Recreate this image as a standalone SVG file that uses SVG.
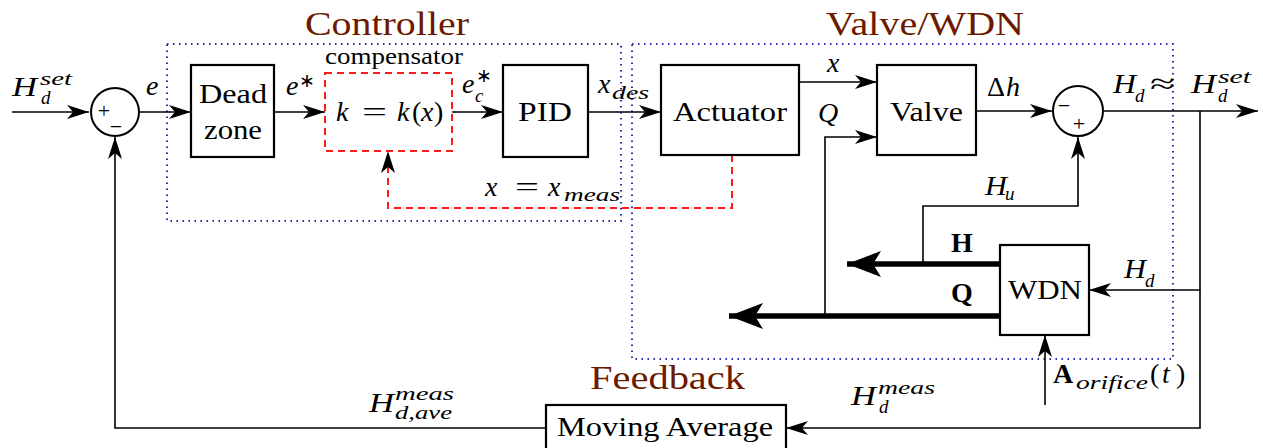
<svg xmlns="http://www.w3.org/2000/svg" width="1263" height="448" viewBox="0 0 1263 448">
  <style>
    .box { fill: #fff; stroke: #000; stroke-width: 2.2; }
    .ln { fill: none; stroke: #000; stroke-width: 1.6; }
    .thick { fill: none; stroke: #000; stroke-width: 5.5; }
    .grp { fill: none; stroke: #2a2ab0; stroke-width: 2; stroke-dasharray: 1.5 4.5; }
    .red { fill: none; stroke: #ff1a1a; stroke-width: 2; stroke-dasharray: 7 5; }
    text { font-family: 'Liberation Serif', 'Times New Roman', serif; fill: #000; }
    .t { font-size: 28px; }
    .m { font-style: italic; font-size: 28px; }
    .r { font-style: normal; font-size: 28px; }
    .s { font-style: italic; font-size: 19px; }
    .b { font-weight: bold; font-style: normal; font-size: 28px; }
    .title { fill: #6b1a00; font-size: 33px; }
    .sign { font-size: 22px; }
  </style>
  <defs>
    <marker id="arr" viewBox="0 0 22 14" markerWidth="22" markerHeight="14" refX="22" refY="7" orient="auto" markerUnits="userSpaceOnUse">
      <path d="M0,0 L22,7 L0,14 L6,7 z" fill="#000"/>
    </marker>
    <marker id="arrBig" viewBox="0 0 34 26" markerWidth="34" markerHeight="26" refX="34" refY="13" orient="auto" markerUnits="userSpaceOnUse">
      <path d="M0,0 L34,13 L0,26 L8,13 z" fill="#000"/>
    </marker>
  </defs>

  <rect width="1263" height="448" fill="#fff"/>

  <!-- grouping frames -->
  <g id="groups">
    <rect class="grp" x="167" y="44" width="454" height="177"/>
    <rect class="grp" x="632" y="44" width="541" height="315"/>
    <text class="title" x="305" y="35" textLength="164" lengthAdjust="spacingAndGlyphs">Controller</text>
    <text class="title" x="826" y="35" textLength="198" lengthAdjust="spacingAndGlyphs">Valve/WDN</text>
    <text class="title" x="590" y="389" textLength="155" lengthAdjust="spacingAndGlyphs">Feedback</text>
  </g>

  <!-- connectors -->
  <g id="connectors">
    <line class="ln" x1="12" y1="112" x2="89" y2="112" marker-end="url(#arr)"/>
    <line class="ln" x1="139" y1="112" x2="191" y2="112" marker-end="url(#arr)"/>
    <line class="ln" x1="274" y1="112" x2="325" y2="112" marker-end="url(#arr)"/>
    <line class="ln" x1="452" y1="112" x2="503" y2="112" marker-end="url(#arr)"/>
    <line class="ln" x1="588" y1="112" x2="661" y2="112" marker-end="url(#arr)"/>
    <line class="ln" x1="799" y1="82" x2="877" y2="82" marker-end="url(#arr)"/>
    <polyline class="ln" points="825,316 825,137 877,137" marker-end="url(#arr)"/>
    <line class="ln" x1="976" y1="111" x2="1052" y2="111" marker-end="url(#arr)"/>
    <line class="ln" x1="1104" y1="111" x2="1258" y2="111" marker-end="url(#arr)"/>
    <polyline class="ln" points="923,264 923,206 1078,206 1078,137" marker-end="url(#arr)"/>
    <line class="thick" x1="1000" y1="264" x2="847" y2="264" marker-end="url(#arrBig)"/>
    <line class="thick" x1="1000" y1="316" x2="729" y2="316" marker-end="url(#arrBig)"/>
    <polyline class="ln" points="1200,111 1200,290 1089,290" marker-end="url(#arr)"/>
    <polyline class="ln" points="1200,290 1200,428 786,428" marker-end="url(#arr)"/>
    <line class="ln" x1="1045" y1="405" x2="1045" y2="335" marker-end="url(#arr)"/>
    <polyline class="ln" points="546,428 115,428 115,137" marker-end="url(#arr)"/>
    <polyline class="red" points="732,155 732,208 388,208 388,151" marker-end="url(#arr)"/>

    <!-- signal labels -->
    <text class="m" x="12" y="96" textLength="25" lengthAdjust="spacingAndGlyphs">H</text>
    <text class="s" x="40" y="85" textLength="32" lengthAdjust="spacingAndGlyphs">set</text>
    <text class="s" x="41" y="104">d</text>

    <text class="m" x="146" y="95">e</text>

    <text class="m" x="286" y="95">e</text>
    <text class="s" x="299" y="87" style="font-style:normal">∗</text>

    <text class="m" x="462" y="93">e</text>
    <text class="s" x="475" y="102">c</text>
    <text class="s" x="476" y="82" style="font-style:normal">∗</text>

    <text class="m" x="598" y="93">x</text>
    <text class="s" x="612" y="99" textLength="37" lengthAdjust="spacingAndGlyphs">des</text>

    <text class="m" x="827" y="72">x</text>
    <text class="m" x="818" y="122">Q</text>

    <text class="r" x="987" y="96">Δ</text>
    <text class="m" x="1006" y="96">h</text>

    <text class="m" x="1113" y="93" textLength="23" lengthAdjust="spacingAndGlyphs">H</text>
    <text class="s" x="1135" y="102">d</text>
    <text class="r" x="1150" y="93" textLength="25" lengthAdjust="spacingAndGlyphs">≈</text>
    <text class="m" x="1191" y="93" textLength="25" lengthAdjust="spacingAndGlyphs">H</text>
    <text class="s" x="1218" y="83" textLength="33" lengthAdjust="spacingAndGlyphs">set</text>
    <text class="s" x="1218" y="102">d</text>

    <text class="m" x="985" y="195" textLength="22" lengthAdjust="spacingAndGlyphs">H</text>
    <text class="s" x="1005" y="200">u</text>

    <text class="b" x="951" y="252">H</text>
    <text class="b" x="951" y="302">Q</text>

    <text class="m" x="1124" y="278" textLength="22" lengthAdjust="spacingAndGlyphs">H</text>
    <text class="s" x="1145" y="287">d</text>

    <text class="b" x="1053" y="383">A</text>
    <text class="s" x="1076" y="389" textLength="72" lengthAdjust="spacingAndGlyphs">orifice</text>
    <text class="r" x="1150" y="383">(</text>
    <text class="m" x="1162" y="383">t</text>
    <text class="r" x="1176" y="383">)</text>

    <text class="m" x="851" y="405" textLength="25" lengthAdjust="spacingAndGlyphs">H</text>
    <text class="s" x="878" y="394" textLength="57" lengthAdjust="spacingAndGlyphs">meas</text>
    <text class="s" x="879" y="413">d</text>

    <text class="m" x="369" y="412" textLength="25" lengthAdjust="spacingAndGlyphs">H</text>
    <text class="s" x="395" y="400" textLength="59" lengthAdjust="spacingAndGlyphs">meas</text>
    <text class="s" x="395" y="419" textLength="57" lengthAdjust="spacingAndGlyphs">d,ave</text>

    <text class="m" x="485" y="196">x</text>
    <text class="r" x="515" y="196" textLength="24" lengthAdjust="spacingAndGlyphs">=</text>
    <text class="m" x="548" y="196">x</text>
    <text class="s" x="564" y="201" textLength="56" lengthAdjust="spacingAndGlyphs">meas</text>
  </g>

  <!-- summing junctions -->
  <g id="sum1">
    <circle cx="115" cy="112" r="24" fill="#fff" stroke="#000" stroke-width="2"/>
    <text class="sign" x="104" y="118" text-anchor="middle">+</text>
    <text class="sign" x="116" y="134" text-anchor="middle">−</text>
  </g>
  <g id="sum2">
    <circle cx="1078" cy="111" r="25" fill="#fff" stroke="#000" stroke-width="2"/>
    <text class="sign" x="1064" y="113" text-anchor="middle">−</text>
    <text class="sign" x="1079" y="131" text-anchor="middle">+</text>
  </g>

  <!-- blocks -->
  <g id="deadzone">
    <rect class="box" x="191" y="65" width="83" height="92"/>
    <text class="t" x="199" y="103" textLength="68" lengthAdjust="spacingAndGlyphs">Dead</text>
    <text class="t" x="204" y="139" textLength="58" lengthAdjust="spacingAndGlyphs">zone</text>
  </g>
  <g id="compensator">
    <rect class="red" x="325" y="73" width="127" height="78" fill="#fff"/>
    <text x="325" y="64" style="font-size:24px" textLength="138" lengthAdjust="spacingAndGlyphs">compensator</text>
    <text class="m" x="336" y="121">k</text>
    <text class="r" x="362" y="121" textLength="25" lengthAdjust="spacingAndGlyphs">=</text>
    <text class="m" x="397" y="121">k</text>
    <text class="r" x="412" y="121">(</text>
    <text class="m" x="421" y="121">x</text>
    <text class="r" x="434" y="121">)</text>
  </g>
  <g id="pid">
    <rect class="box" x="503" y="65" width="85" height="92"/>
    <text class="t" x="518" y="121" textLength="54" lengthAdjust="spacingAndGlyphs">PID</text>
  </g>
  <g id="actuator">
    <rect class="box" x="661" y="65" width="138" height="90"/>
    <text class="t" x="673" y="121" textLength="114" lengthAdjust="spacingAndGlyphs">Actuator</text>
  </g>
  <g id="valve">
    <rect class="box" x="877" y="65" width="99" height="90"/>
    <text class="t" x="890" y="121" textLength="73" lengthAdjust="spacingAndGlyphs">Valve</text>
  </g>
  <g id="wdn">
    <rect class="box" x="1000" y="245" width="89" height="90"/>
    <text class="t" x="1008" y="299" textLength="74" lengthAdjust="spacingAndGlyphs">WDN</text>
  </g>
  <g id="movingaverage">
    <rect class="box" x="546" y="405" width="240" height="50"/>
    <text class="t" x="557" y="436" textLength="216" lengthAdjust="spacingAndGlyphs">Moving Average</text>
  </g>
</svg>
